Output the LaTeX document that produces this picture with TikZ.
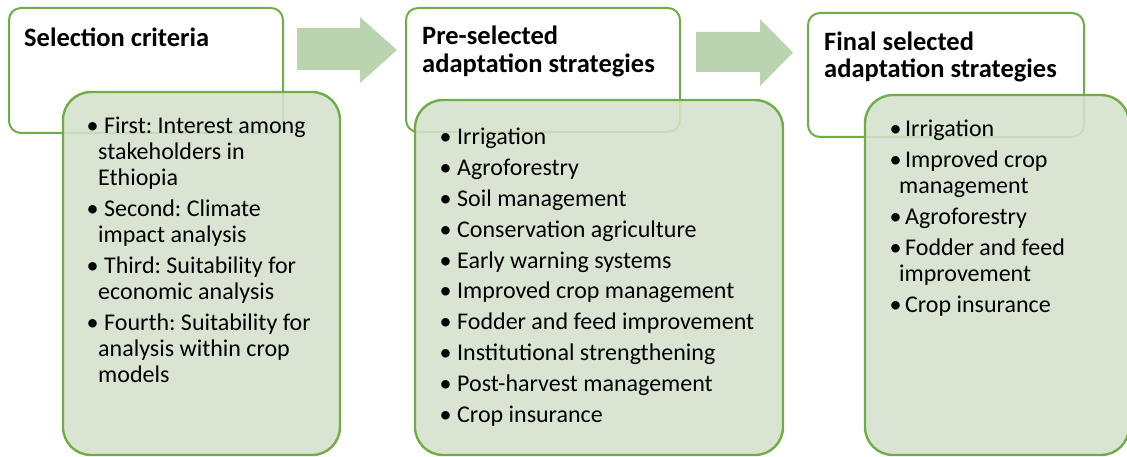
\documentclass[tikz,border=0pt]{standalone}
\usepackage{fontspec}
\setmainfont{Carlito}
\definecolor{leafgreen}{HTML}{70AD47}
\definecolor{palegreen}{HTML}{D4E1CC}
\definecolor{arrowgreen}{HTML}{BBD4B0}
\newcommand{\bul}[1][17.5pt]{\makebox[#1][l]{\textbullet}}
\frenchspacing

\begin{document}
\begin{tikzpicture}[
  x=1pt, y=-1pt,
  headbox/.style 2 args={
    draw=leafgreen, line width=2pt, fill=white, rounded corners=12pt,
    minimum width=#1, minimum height=#2, inner sep=0pt},
  listbox/.style 2 args={
    draw=leafgreen, line width=2.4pt, fill=palegreen, fill opacity=0.88,
    rounded corners=28pt, minimum width=#1, minimum height=#2, inner sep=0pt},
  headtext/.style={font=\fontsize{26.5}{27.5}\selectfont\bfseries,
    align=left, anchor=base west, inner sep=0pt},
  itemtext/.style={font=\fontsize{24}{26}\selectfont,
    align=left, anchor=base west, inner sep=0pt},
  flow/.style={fill=arrowgreen},
]
\useasboundingbox (0,0) rectangle (1127,457);

% === Column 1: Selection criteria ===
% (base anchor of a multi-line node = baseline of its last line)
\node[headbox={274pt}{125pt}] (crit) at (146,70.5) {};
\node[headtext] (crittitle) at (24,47) {Selection criteria};
\node[listbox={277pt}{363pt}] (critlist) at (201.5,273.5) {};
\node[itemtext] (crititems) at (86.5,382)
  {\bul First: Interest among\\
   \hspace*{11.5pt}stakeholders in\\
   \hspace*{11.5pt}Ethiopia\\[5pt]
   \bul Second: Climate\\
   \hspace*{11.5pt}impact analysis\\[5pt]
   \bul Third: Suitability for\\
   \hspace*{11.5pt}economic analysis\\[5pt]
   \bul Fourth: Suitability for\\
   \hspace*{11.5pt}analysis within crop\\
   \hspace*{11.5pt}models};

% === Block arrow 1 ===
\fill[flow] (297,28) -- (360,28) -- (360,17) -- (397,50)
  -- (360,83) -- (360,70) -- (297,70) -- cycle;

% === Column 2: Pre-selected strategies ===
\node[headbox={274pt}{124pt}] (presel) at (543,70) {};
\node[headtext] (preseltitle) at (422,72.5)
  {Pre-selected\\adaptation strategies};
\node[listbox={368pt}{355pt}] (presellist) at (599,277.5) {};
\node[itemtext] (preselitems) at (439.5,422)
  {\bul Irrigation\\[4.8pt]
   \bul Agroforestry\\[4.8pt]
   \bul Soil management\\[4.8pt]
   \bul Conservation agriculture\\[4.8pt]
   \bul Early warning systems\\[4.8pt]
   \bul Improved crop management\\[4.8pt]
   \bul Fodder and feed improvement\\[4.8pt]
   \bul Institutional strengthening\\[4.8pt]
   \bul Post-harvest management\\[4.8pt]
   \bul Crop insurance};

% === Block arrow 2 ===
\fill[flow] (696,32) -- (760,32) -- (760,19) -- (793,52.5)
  -- (760,86) -- (760,72) -- (696,72) -- cycle;

% === Column 3: Final selection ===
\node[headbox={276pt}{124pt}] (final) at (946,75) {};
\node[headtext] (finaltitle) at (824,78)
  {Final selected\\adaptation strategies};
\node[listbox={264pt}{360pt}] (finallist) at (997,275) {};
\node[itemtext] (finalitems) at (889.5,312)
  {\bul[15.5pt]Irrigation\\[5pt]
   \bul[15.5pt]Improved crop\\
   \hspace*{9.5pt}management\\[5pt]
   \bul[15.5pt]Agroforestry\\[5pt]
   \bul[15.5pt]Fodder and feed\\
   \hspace*{9.5pt}improvement\\[5pt]
   \bul[15.5pt]Crop insurance};

\end{tikzpicture}
\end{document}
